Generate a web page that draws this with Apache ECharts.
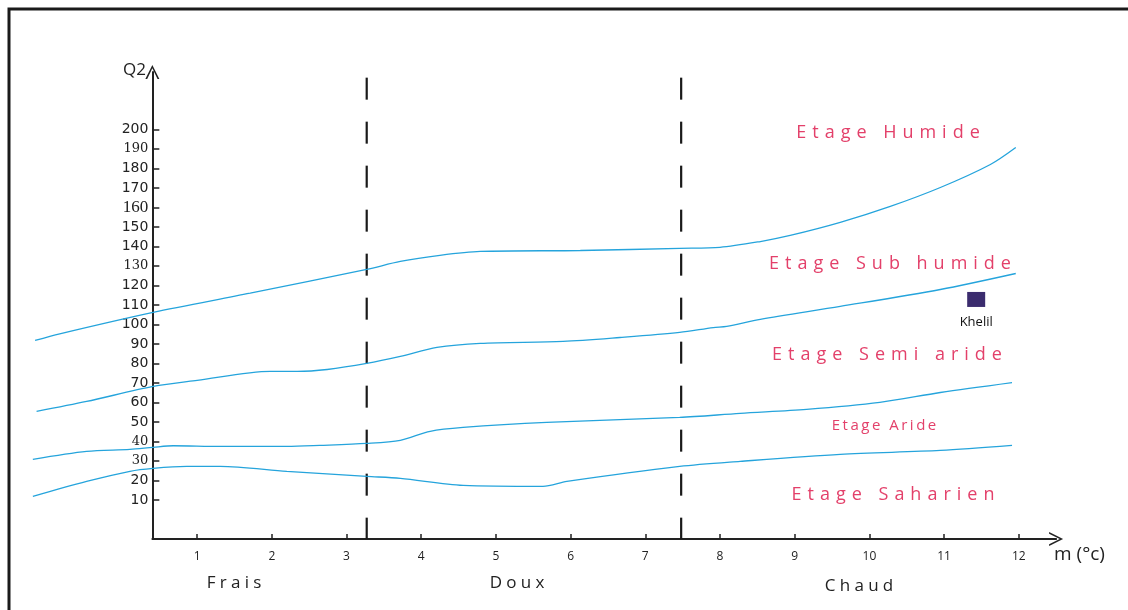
<!DOCTYPE html>
<html>
<head>
<meta charset="utf-8">
<script src="https://cdn.jsdelivr.net/npm/echarts@6/dist/echarts.min.js"></script>
<style>
  html, body { margin: 0; padding: 0; background: #fff; }
  #chart { width: 1128px; height: 610px; }
</style>
</head>
<body>
<div id="chart"></div>
<script>
// climagramme d'Emberger : m (°c) en abscisse, Q2 en ordonnee
const xTicks = [1, 2, 3, 4, 5, 6, 7, 8, 9, 10, 11, 12];
const yTicks = [10, 20, 30, 40, 50, 60, 70, 80, 90, 100, 110, 120, 130, 140, 150, 160, 170, 180, 190, 200];

// limites entre etages bioclimatiques [m, Q2]
const limitHumide = [[-1.17, 91.8], [-0.84, 95.2], [0.41, 106.2], [1.71, 116.0], [3.27, 128.2], [3.72, 132.3],
  [4.25, 135.4], [4.79, 137.4], [6.13, 137.9], [7.46, 139.0], [8.0, 139.5], [8.54, 142.5],
  [8.94, 145.6], [9.61, 152.3], [10.28, 160.5], [10.95, 170.2], [11.62, 182.0], [11.96, 190.7]];
const limitSubHumide = [[-1.15, 55.4], [-0.48, 60.5], [0.41, 68.2], [1.0, 71.3], [1.98, 75.9], [2.34, 75.9],
  [2.74, 76.9], [3.27, 80.0], [3.72, 83.6], [4.21, 88.2], [4.79, 90.3], [5.90, 91.3], [6.66, 93.3], [7.46, 95.9],
  [7.91, 98.4], [8.09, 99.0], [8.54, 102.6], [9.61, 109.2], [10.95, 117.9], [11.96, 126.1]];
const limitSemiAride = [[-1.20, 30.8], [-0.48, 34.9], [0.10, 35.9], [0.41, 37.0], [0.68, 37.8], [1.31, 37.5],
  [2.20, 37.5], [2.64, 38.0], [3.27, 39.0], [3.72, 40.6], [4.12, 45.2], [4.56, 47.2], [5.68, 49.8], [7.46, 52.3],
  [8.27, 54.4], [9.16, 56.4], [10.14, 60.0], [10.95, 65.1], [11.91, 70.2]];
const limitAride = [[-1.20, 11.8], [-0.48, 19.5], [0.10, 24.7], [0.41, 26.2], [0.86, 27.2], [1.31, 27.2],
  [2.20, 24.7], [3.27, 22.1], [3.72, 21.1], [4.56, 17.5], [5.63, 17.0], [5.95, 19.5], [7.46, 27.2],
  [8.27, 29.8], [9.61, 33.4], [10.95, 35.4], [11.91, 38.0]];

// limites thermiques (frais / doux / chaud)
const limitTemp = [3.27, 7.48];

const stations = [{ name: 'Khelil', value: [11.43, 112.8] }];

const chart = echarts.init(document.getElementById('chart'));

const blue = '#25a4dc';
const pink = '#e3406a';
const arrow = 'path://M50,0 L100,100 L87,100 L50,24 L13,100 L0,100 Z';

// meme echelle pour les deux grilles : 74.69 px par degre, grille 1 elargie a gauche
const pxPerDeg = 74.69;
const xMax = 12.5;
const xMinAxis = 0.4;
const xMinPlot = -1.3;
const gridRight = 71.9;
const xRightPx = 1128 - gridRight;
const yMin = -10;
const yMax = 229.4;

// espacement des lettres
function spread(txt, sp) {
  return txt.split('').join(sp);
}

function curve(name, data) {
  return {
    name: name,
    type: 'line',
    xAxisIndex: 1,
    yAxisIndex: 1,
    data: data,
    smooth: 0.3,
    symbol: 'none',
    silent: true,
    lineStyle: { color: blue, width: 1.3 },
    z: 3
  };
}

function dashed(x) {
  return {
    type: 'line',
    xAxisIndex: 1,
    yAxisIndex: 1,
    data: [[x, 226.5], [x, -10]],
    symbol: 'none',
    clip: false,
    silent: true,
    lineStyle: { color: '#1a1a1a', width: 2.2, type: [22, 22] },
    z: 2
  };
}

function label(text, x, y, size) {
  return {
    type: 'text',
    x: x,
    y: y,
    style: {
      text: text,
      align: 'center',
      verticalAlign: 'middle',
      fontSize: size,
      fontFamily: 'Open Sans',
      fill: pink
    }
  };
}

function blackText(text, x, y, size, align) {
  return {
    type: 'text',
    x: x,
    y: y,
    style: {
      text: text,
      align: align || 'center',
      verticalAlign: 'middle',
      fontSize: size,
      fontFamily: 'Open Sans',
      fill: '#222'
    }
  };
}

const option = {
  backgroundColor: '#fff',
  animation: false,
  grid: [
    { left: xRightPx - (xMax - xMinAxis) * pxPerDeg, right: gridRight, top: 72, bottom: 71 },
    { left: xRightPx - (xMax - xMinPlot) * pxPerDeg, right: gridRight, top: 72, bottom: 71 }
  ],
  xAxis: [
    {
      type: 'value',
      gridIndex: 0,
      min: xMinAxis,
      max: xMax,
      splitLine: { show: false },
      axisLine: {
        onZero: false,
        lineStyle: { color: '#222', width: 2 },
        symbol: ['none', arrow],
        symbolSize: [14, 20]
      },
      axisTick: { inside: true, length: 5, customValues: xTicks, lineStyle: { color: '#222', width: 1.5 } },
      axisLabel: { customValues: xTicks, color: '#222', fontSize: 12, fontFamily: 'Open Sans', margin: 12 }
    },
    { type: 'value', gridIndex: 1, min: xMinPlot, max: xMax, show: false }
  ],
  yAxis: [
    {
      type: 'value',
      gridIndex: 0,
      min: yMin,
      max: yMax,
      splitLine: { show: false },
      axisLine: {
        onZero: false,
        lineStyle: { color: '#222', width: 2 },
        symbol: ['none', arrow],
        symbolSize: [14, 17]
      },
      axisTick: { inside: true, length: 7, customValues: yTicks, lineStyle: { color: '#222', width: 1.5 } },
      axisLabel: {
        customValues: yTicks,
        color: '#222',
        fontSize: 14,
        fontFamily: 'DejaVu Sans',
        margin: 4,
        formatter: function (v) {
          if (v === 30 || v === 40 || v === 130 || v === 190) return '{w|' + v + '}';
          if (v === 160) return '{b|' + v + '}';
          return '' + v;
        },
        rich: {
          w: { fontSize: 13, fontFamily: 'DejaVu Serif', color: '#222' },
          b: { fontSize: 17, fontFamily: 'Liberation Sans Narrow', color: '#222' }
        }
      }
    },
    { type: 'value', gridIndex: 1, min: yMin, max: yMax, show: false }
  ],
  series: [
    curve('Humide', limitHumide),
    curve('Sub humide', limitSubHumide),
    curve('Semi aride', limitSemiAride),
    curve('Aride', limitAride),
    dashed(limitTemp[0]),
    dashed(limitTemp[1]),
    {
      type: 'scatter',
      xAxisIndex: 1,
      yAxisIndex: 1,
      data: stations,
      symbol: 'rect',
      symbolSize: [18, 15],
      itemStyle: { color: '#3b2c6e', opacity: 1 },
      label: {
        show: true,
        position: 'bottom',
        distance: 9,
        formatter: '{b}',
        fontSize: 13,
        fontFamily: 'Open Sans',
        color: '#111'
      },
      z: 4
    }
  ],
  graphic: [
    {
      type: 'rect',
      shape: { x: 9, y: 9, width: 1140, height: 640 },
      style: { fill: null, stroke: '#1a1a1a', lineWidth: 3 },
      z: -1
    },
    blackText('Q2', 146, 70, 17, 'right'),
    blackText('m (°c)', 1054, 555, 19, 'left'),
    blackText(spread('Frais', '\u2005'), 234, 583, 17),
    blackText(spread('Doux', '\u2005'), 517, 583, 17),
    blackText(spread('Chaud', '\u2005'), 859, 586, 17),
    label(spread('Etage Humide', '\u2004'), 888, 133, 18),
    label(spread('Etage Sub humide', '\u2004'), 890, 264, 18),
    label(spread('Etage Semi aride', '\u2004'), 887, 355, 18),
    label(spread('Etage Aride', '\u2006'), 884, 426, 15),
    label(spread('Etage Saharien', '\u2004'), 893, 495, 18)
  ]
};

chart.setOption(option);
</script>
</body>
</html>
